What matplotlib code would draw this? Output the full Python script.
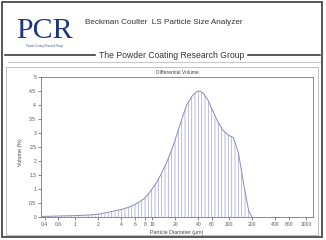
import matplotlib
matplotlib.use("Agg")
import matplotlib.pyplot as plt
from matplotlib.patches import Rectangle
from matplotlib.lines import Line2D

# particle diameter (um) and differential volume (%)
diameter = [0.375, 0.5, 0.7, 1.0, 1.5, 2.0, 2.8, 4.0, 5.1, 6.5, 8.0, 9.5,
            11.3, 13.2, 15.3, 18.0, 20.7, 24.0, 28.0, 33.0, 37.8, 41.8,
            46.1, 53.0, 62.3, 72.0, 84.2, 98.0, 113.8, 132.0, 154.0,
            179.0, 198.0]
volume = [0.02, 0.03, 0.04, 0.05, 0.07, 0.10, 0.18, 0.27, 0.36, 0.50, 0.67,
          0.92, 1.21, 1.55, 1.93, 2.40, 2.90, 3.45, 3.99, 4.32, 4.48, 4.50,
          4.42, 4.18, 3.75, 3.38, 3.08, 2.92, 2.84, 2.30, 1.21, 0.24, 0.0]

x_ticks = [0.4, 0.6, 1, 2, 4, 6, 8, 10, 20, 40, 60, 100, 200, 400, 600, 1000]
x_labels = ["0.4", "0.6", "1", "2", "4", "6", "8", "10", "20", "40", "60",
            "100", "200", "400", "600", "1000"]
y_ticks = [0, 0.5, 1, 1.5, 2, 2.5, 3, 3.5, 4, 4.5, 5]
y_labels = ["0", "0.5", "1", "1.5", "2", "2.5", "3", "3.5", "4", "4.5", "5"]

plt.rcParams['font.family'] = ['Liberation Sans', 'DejaVu Sans']
plt.rcParams['hatch.linewidth'] = 0.55

W, H = 326, 240
fig = plt.figure(figsize=(W / 100, H / 100), dpi=100)

def fx(px):
    return px / W

def fy(py):
    return 1 - py / H

# outer frame
fig.add_artist(Rectangle((fx(2), fy(237)), fx(320), 235 / H, transform=fig.transFigure,
                         fill=False, edgecolor="#4a4a4a", lw=1.3))

# logo
fig.text(fx(44), fy(38), "PCR", family="Liberation Serif", fontsize=21.5,
         color="#1f3580", ha="center", va="baseline")
fig.text(fx(44), fy(46), "Powder Coating Research Group", fontsize=1.8,
         color="#3a4f9a", ha="center", va="center")

# header text
fig.text(fx(85), fy(22), "Beckman Coulter  LS Particle Size Analyzer",
         fontsize=5.9, color="#333333", ha="left", va="center")

# rule with group name
fig.add_artist(Line2D([fx(5), fx(95)], [fy(55), fy(55)], color="#2a2a2a", lw=1.1))
fig.add_artist(Line2D([fx(248), fx(320)], [fy(55), fy(55)], color="#2a2a2a", lw=1.1))
fig.text(fx(171.5), fy(55), "The Powder Coating Research Group", fontsize=6.2,
         color="#333333", ha="center", va="center")

# light rules / inner panel
fig.add_artist(Line2D([fx(8), fx(320)], [fy(61.5), fy(61.5)], color="#c8c8c8", lw=0.8))
fig.add_artist(Rectangle((fx(6), fy(235)), fx(312), 168 / H, transform=fig.transFigure,
                         fill=False, edgecolor="#bdbdbd", lw=0.7))
fig.text(fx(177), fy(72.5), "Differential Volume", fontsize=3.6,
         color="#444444", ha="center", va="center")

# chart
ax = fig.add_axes([fx(41), fy(217), fx(272), 140 / H])
ax.fill_between(diameter, volume, 0, facecolor="none", edgecolor="#a9a9dc",
                hatch="|||||", linewidth=0)
ax.plot(diameter, volume, color="#8c8cbc", lw=0.7)
ax.plot([0.375, 1230], [0, 0], color="#8c8cbc", lw=0.6)

ax.set_xscale("log")
ax.set_xlim(0.36, 1230)
ax.set_ylim(0, 5)
ax.set_xticks(x_ticks)
ax.set_xticklabels(x_labels)
ax.minorticks_off()
ax.set_yticks(y_ticks)
ax.set_yticklabels(y_labels)
ax.tick_params(labelsize=3.6, length=2, width=0.5, pad=1.5, colors="#555555")
for s in ax.spines.values():
    s.set_color("#777777")
    s.set_linewidth(0.6)

ax.set_ylabel("Volume (%)", fontsize=3.8, color="#444444")
ax.yaxis.set_label_coords(-0.066, 0.46)
ax.set_xlabel("Particle Diameter (\u00b5m)", fontsize=3.8, color="#444444")
ax.xaxis.set_label_coords(0.5, -0.09)

fig.savefig("out.png", dpi=100)
